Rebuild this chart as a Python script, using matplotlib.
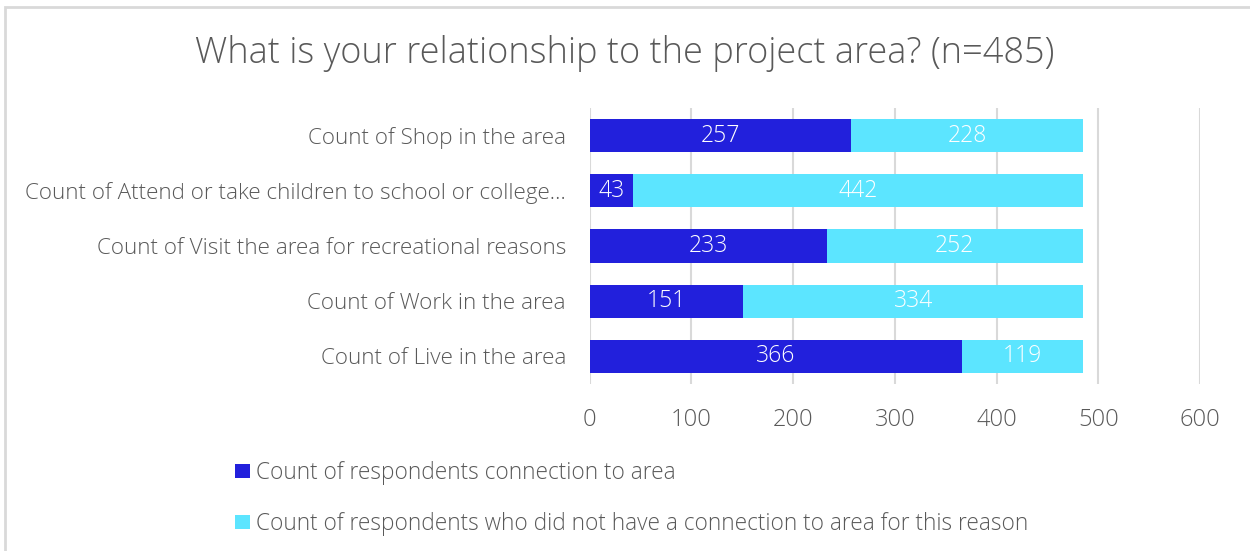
import matplotlib.pyplot as plt
import numpy as np
from matplotlib.patches import Rectangle

categories = [
    'Count of Live in the area',
    'Count of Work in the area',
    'Count of Visit the area for recreational reasons',
    'Count of Attend or take children to school or college\u2026',
    'Count of Shop in the area',
]
connected = [366, 151, 233, 43, 257]
not_connected = [119, 334, 252, 442, 228]
series_names = [
    'Count of respondents connection to area',
    'Count of respondents who did not have a connection to area for this reason',
]
x_ticks = [0, 100, 200, 300, 400, 500, 600]

DARK = '#2220DC'
LIGHT = '#5CE5FF'
TEXT = '#595959'

plt.rcParams['font.family'] = ['Open Sans', 'DejaVu Sans']

fig = plt.figure(figsize=(12.5, 5.51), dpi=100)
ax = fig.add_axes([0.4716, 0.303, 0.4886, 0.501])

y = np.arange(len(categories))
b1 = ax.barh(y, connected, height=0.6, color=DARK, label=series_names[0])
b2 = ax.barh(y, not_connected, left=connected, height=0.6, color=LIGHT,
             label=series_names[1])
for bars, vals, lefts in ((b1, connected, [0] * 5), (b2, not_connected, connected)):
    for bar, v, l in zip(bars, vals, lefts):
        ax.text(l + v / 2, bar.get_y() + bar.get_height() / 2, str(v),
                ha='center', va='center', color='white', fontsize=16.5,
                fontweight='light')

ax.set_xlim(0, 600)
ax.set_ylim(-0.5, 4.5)
ax.set_xticks(x_ticks)
ax.set_yticks(y)
ax.set_yticklabels(categories)
ax.tick_params(axis='x', length=0, pad=17, labelsize=17, labelcolor=TEXT)
ax.tick_params(axis='y', length=0, pad=17, labelsize=16.2, labelcolor=TEXT)
for lab in ax.get_xticklabels() + ax.get_yticklabels():
    lab.set_fontweight('light')
ax.grid(axis='x', color='#D9D9D9', linewidth=1.5)
ax.set_axisbelow(True)
for s in ax.spines.values():
    s.set_visible(False)

fig.text(0.5, 0.903, 'What is your relationship to the project area? (n=485)',
         ha='center', va='center', fontsize=26, color=TEXT, fontweight='light')

fig.legend(handles=[b1, b2], loc='upper left', bbox_to_anchor=(0.181, 0.18),
           frameon=False, prop={'size': 16.3, 'weight': 'light'},
           labelcolor=TEXT, handlelength=0.63, handleheight=0.63,
           handletextpad=0.3, labelspacing=1.2, borderaxespad=0)

# light frame around the chart area
fig.patches.append(Rectangle((0.004, -0.1), 1.2, 1.087, transform=fig.transFigure,
                             fill=False, edgecolor='#D9D9D9', linewidth=2))

fig.savefig('out.png', dpi=100)
